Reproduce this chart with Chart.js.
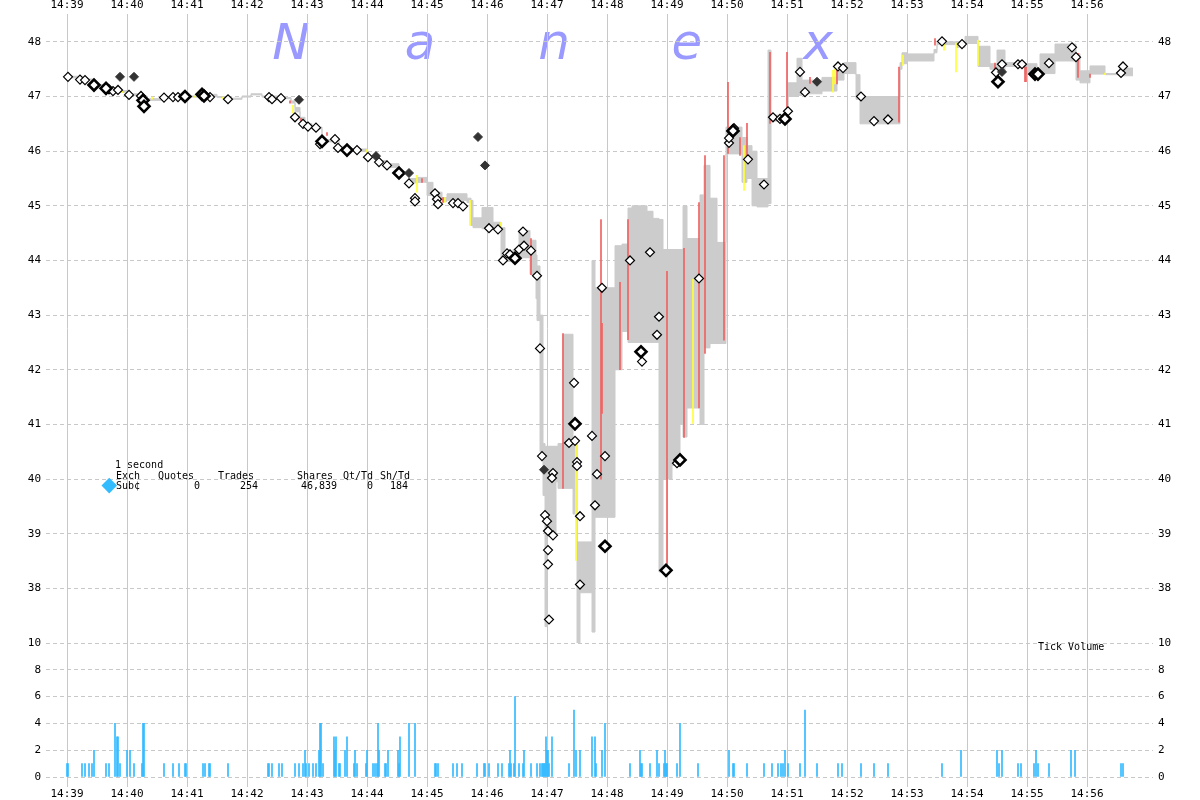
<!DOCTYPE html>
<html><head><meta charset="utf-8">
<script src="https://cdn.jsdelivr.net/npm/chart.js@4.4.1/dist/chart.umd.min.js"></script>
<style>
html,body{margin:0;padding:0;background:#fff;}
#wrap{position:relative;width:1200px;height:800px;overflow:hidden;background:#fff;}
canvas{position:absolute;left:0;top:0;}
.wm{position:absolute;font-family:"DejaVu Sans",sans-serif;font-style:italic;font-size:50px;color:#9999ff;line-height:1;transform:translateX(-50%);}
.t{position:absolute;font-family:"DejaVu Sans Mono",monospace;font-size:10px;color:#000;white-space:pre;line-height:1;}
#dia{position:absolute;left:104px;top:480px;width:10.5px;height:10.5px;background:#33bbff;transform:rotate(45deg);}
</style></head>
<body><div id="wrap">
<div class="wm" style="left:291px;top:17px">N</div>
<div class="wm" style="left:420px;top:17px">a</div>
<div class="wm" style="left:554px;top:17px">n</div>
<div class="wm" style="left:687px;top:17px">e</div>
<div class="wm" style="left:818px;top:17px">x</div>
<canvas id="price" width="1200" height="800"></canvas>
<canvas id="vol" width="1200" height="800"></canvas>
<div class="t" style="left:115px;top:460px">1 second</div>
<div class="t" style="left:116px;top:471px">Exch</div>
<div class="t" style="left:158px;top:471px">Quotes</div>
<div class="t" style="left:218px;top:471px">Trades</div>
<div class="t" style="left:297px;top:471px">Shares</div>
<div class="t" style="left:343px;top:471px">Qt/Td</div>
<div class="t" style="left:380px;top:471px">Sh/Td</div>
<div id="dia"></div>
<div class="t" style="left:116px;top:481px">Sub¢</div>
<div class="t" style="left:194px;top:481px">0</div>
<div class="t" style="left:240px;top:481px">254</div>
<div class="t" style="left:301px;top:481px">46,839</div>
<div class="t" style="left:367px;top:481px">0</div>
<div class="t" style="left:390px;top:481px">184</div>
<div class="t" style="left:1038px;top:642px">Tick Volume</div>
</div>
<script>
// time values are seconds after 14:39:00
const minuteTicks = [0,60,120,180,240,300,360,420,480,540,600,660,720,780,840,900,960,1020];
const minuteLabels = ['14:39','14:40','14:41','14:42','14:43','14:44','14:45','14:46','14:47','14:48','14:49','14:50','14:51','14:52','14:53','14:54','14:55','14:56'];
const priceTicks = [38,39,40,41,42,43,44,45,46,47,48];
const volumeTicks = [0,2,4,6,8,10];

// NBBO band: [seconds, low, high] (holds until next step)
const bandSteps = [
[0,47.34,47.37],[15,47.30,47.32],[27,47.19,47.22],[39,47.13,47.15],[48,47.08,47.11],[62,47.02,47.05],
[74,46.98,47.01],[80,46.93,46.96],[97,46.96,46.98],[119,46.99,47.01],[136,47.02,47.04],[150,46.98,47.00],
[162,46.95,46.97],[175,46.99,47.01],[184,47.03,47.05],[195,46.99,47.01],[214,46.96,46.98],[224,46.88,46.92],
[228,46.72,46.80],[233,46.55,46.62],[238,46.47,46.50],[245,46.41,46.44],[255,46.17,46.21],[266,46.20,46.24],
[272,46.05,46.09],[280,46.00,46.04],[300,45.88,45.92],[312,45.79,45.83],[320,45.70,45.77],[332,45.58,45.62],
[342,45.42,45.50],[350,45.43,45.52],[360,45.19,45.43],[366,45.12,45.25],[375,45.08,45.15],[380,45.10,45.22],
[400,45.06,45.14],[404,44.64,45.10],[406,44.60,44.78],[415,44.58,44.97],[426,44.57,44.70],[434,43.98,44.60],
[438,43.98,44.15],[446,44.02,44.20],[452,44.05,44.55],[463,43.75,44.37],[469,43.30,44.10],[470,42.90,43.90],
[473,40.50,43.00],[476,39.70,40.65],[478,37.30,40.60],[480,38.95,40.60],[489,39.95,40.60],[491,39.83,40.65],
[496,39.83,42.65],[506,39.36,40.71],[510,37.00,38.85],[513,37.92,38.85],[525,37.20,44.00],[528,39.30,43.50],
[548,42.00,44.27],[555,42.70,44.30],[561,42.50,44.96],[565,42.50,45.00],[580,42.50,44.90],[586,42.50,44.77],
[592,38.30,44.75],[596,40.00,44.20],[605,40.25,44.20],[613,41.00,44.20],[616,40.77,45.00],[620,41.30,44.40],
[633,41.00,45.20],[637,42.40,45.74],[643,42.48,45.14],[650,42.48,44.33],[659,45.95,46.44],[675,45.43,46.25],
[680,45.50,46.10],[685,45.00,46.00],[690,44.98,45.50],[701,45.04,47.85],[704,46.55,46.66],[720,46.58,46.72],
[721,47.00,47.25],[730,47.02,47.70],[735,47.05,47.30],[755,47.10,47.35],[770,47.30,47.55],[777,47.42,47.62],
[789,46.95,47.40],[793,46.50,47.00],[833,47.50,47.62],[835,47.60,47.80],[840,47.65,47.78],[867,47.80,47.86],
[870,47.95,48.00],[890,47.90,48.00],[898,47.97,48.10],[911,47.55,47.92],[923,47.50,47.60],[930,47.45,47.85],
[938,47.55,47.62],[958,47.42,47.60],[970,47.42,47.50],[973,47.42,47.78],[988,47.65,47.96],[1009,47.30,47.78],
[1013,47.25,47.47],[1023,47.41,47.56],[1038,47.40,47.42],[1053,47.38,47.52],[1066,47.38,47.52]
];

// crossed / locked quote flashes: [seconds, low, high]
const redQuoteLines = [
[223,46.88,46.92],[234,46.55,46.60],[260,46.29,46.34],[355,45.43,45.50],[376,45.06,45.15],
[464,43.74,44.40],[496,39.83,42.66],[534,40.00,44.75],[535,41.20,42.85],[553,42.00,43.60],[561,42.55,44.75],
[600,38.38,43.80],[617,40.76,44.22],[632,41.30,45.06],[638,42.30,45.92],[657,42.54,45.92],[661,45.96,47.26],
[673,45.92,46.25],[680,45.88,46.51],[703,46.51,47.81],[720,46.69,47.81],[743,47.24,47.35],[770,47.23,47.52],
[832,46.53,47.54],[868,47.94,48.06],[928,47.39,47.61],[958,47.27,47.54],[959,47.27,47.54],[1011,47.35,47.79],[1023,47.35,47.41]
];
const yellowQuoteLines = [
[55,47.07,47.10],[85,46.95,46.99],[128,46.99,47.01],[156,46.96,46.99],[226,46.70,46.84],[300,45.98,46.03],
[350,45.25,45.56],[378,45.06,45.15],[403,44.64,45.10],[434,44.58,44.70],[509,38.51,40.71],[626,41.02,43.66],
[677,45.28,46.10],[766,47.08,47.48],[768,47.23,47.50],[836,47.57,47.76],[877,47.85,47.98],[889,47.45,47.98],
[911,47.57,48.03],[1038,47.40,47.43]
];

// trades: [seconds, price]
const tradesNormal = [
[1,47.36],[13,47.31],[18,47.30],[42,47.13],[46,47.10],[51,47.12],[62,47.03],[74,47.01],[97,46.98],[106,46.99],
[111,46.99],[143,46.99],[161,46.95],[202,46.99],[205,46.95],[214,46.97],[228,46.62],[236,46.50],[241,46.45],
[249,46.43],[253,46.13],[268,46.22],[271,46.06],[290,46.02],[301,45.89],[312,45.80],[320,45.74],[342,45.41],
[348,45.14],[348,45.08],[368,45.23],[370,45.12],[371,45.03],[386,45.05],[391,45.05],[396,44.99],[422,44.59],
[431,44.57],[436,44.00],[440,44.13],[443,44.11],[452,44.20],[457,44.27],[456,44.53],[464,44.18],[470,43.72],
[473,42.39],[475,40.42],[486,40.11],[485,40.02],[478,39.34],[480,39.23],[481,39.05],[486,38.97],[481,38.70],
[481,38.44],[482,37.43],[507,41.76],[502,40.66],[508,40.70],[510,40.31],[510,40.24],[513,39.32],[513,38.07],
[525,40.79],[530,40.09],[528,39.52],[535,43.50],[538,40.42],[563,44.00],[583,44.15],[592,42.97],[590,42.64],
[575,42.15],[610,40.29],[632,43.67],[662,46.15],[662,46.24],[667,46.42],[681,45.85],[697,45.39],[706,46.62],
[713,46.59],[721,46.73],[733,47.45],[738,47.08],[771,47.55],[776,47.52],[794,47.00],[807,46.55],[821,46.58],
[875,48.01],[895,47.96],[929,47.44],[935,47.59],[951,47.59],[955,47.59],[982,47.61],[1005,47.90],[1009,47.72],
[1054,47.43],[1056,47.55]
];
const tradesLarge = [
[27,47.21],[39,47.15],[76,46.93],[77,46.82],[118,47.00],[135,47.04],[137,47.01],[255,46.18],[280,46.02],
[332,45.60],[448,44.04],[508,41.01],[538,38.77],[574,42.33],[599,38.33],[613,40.35],[666,46.37],[718,46.59],
[931,47.27],[968,47.41],[971,47.41]
];
const tradesFilled = [
[53,47.36],[67,47.36],[232,46.94],[309,45.91],[342,45.60],[411,46.26],[418,45.74],[477,40.17],[750,47.27],[935,47.45]
];

// tick volume per second: [seconds, trades]
const tickVolume = [
[0,1],[1,1],[15,1],[18,1],[22,1],[25,1],[27,2],[39,1],[42,1],[48,4],[50,3],[51,3],[53,1],[60,2],[63,2],[67,1],
[75,1],[76,4],[77,4],[97,1],[106,1],[112,1],[118,1],[119,1],[136,1],[138,1],[142,1],[143,1],[161,1],[201,1],
[202,1],[205,1],[212,1],[215,1],[228,1],[232,1],[236,1],[238,2],[239,1],[242,1],[246,1],[249,1],[252,2],[253,4],
[254,4],[256,1],[267,3],[268,2],[269,3],[272,1],[273,1],[278,2],[280,3],[287,1],[288,2],[290,1],[299,1],[300,2],
[306,1],[308,1],[310,1],[311,4],[312,2],[318,1],[319,1],[321,2],[331,2],[332,1],[333,3],[342,4],[348,4],[368,1],
[369,1],[371,1],[386,1],[390,1],[395,1],[410,1],[417,1],[418,1],[422,1],[431,1],[435,1],[442,1],[443,2],[444,1],
[447,1],[448,6],[452,1],[456,1],[457,2],[464,1],[470,1],[473,1],[475,1],[476,1],[477,1],[478,1],[479,3],[480,2],
[481,2],[482,1],[485,3],[502,1],[507,5],[509,2],[513,2],[525,3],[528,3],[529,1],[535,2],[538,4],[563,1],[573,2],
[574,1],[575,1],[583,1],[590,2],[592,1],[597,1],[598,2],[599,1],[600,1],[610,1],[613,4],[631,1],[662,2],[666,1],
[667,1],[680,1],[697,1],[705,1],[711,1],[714,1],[716,1],[718,2],[721,1],[733,1],[738,5],[750,1],[771,1],[775,1],
[794,1],[807,1],[821,1],[875,1],[894,2],[930,2],[932,1],[935,2],[951,1],[954,1],[967,1],[969,2],[971,1],[982,1],
[1004,2],[1008,2],[1054,1],[1056,1]
];

const FONT = {family:'"DejaVu Sans Mono", monospace', size:11};
const GRID = '#c8c8c8';
const X_MIN = -21, X_MAX = 1086;

function timeAxis(pos, h, pad) {
  return {
    type:'linear', position:pos, min:X_MIN, max:X_MAX, offset:false,
    afterBuildTicks: s => { s.ticks = minuteTicks.map(v => ({value:v})); },
    afterFit: s => { s.height = h; },
    ticks:{ font:FONT, color:'#000', padding:pad, autoSkip:false, maxRotation:0,
      callback: v => minuteLabels[minuteTicks.indexOf(v)] },
    grid:{ color:GRID, lineWidth:1, drawTicks:false, offset:false },
    border:{ display:false }
  };
}
function valueAxis(pos, min, max, ticks, w, showGrid) {
  return {
    type:'linear', position:pos, min:min, max:max,
    afterBuildTicks: s => { s.ticks = ticks.map(v => ({value:v})); },
    afterFit: s => { s.width = w; },
    ticks:{ font:FONT, color:'#000', padding:5, callback: v => String(v) },
    grid:{ display:showGrid, color:GRID, lineWidth:1, drawTicks:false },
    border:{ display:false, dash:[4,3] }
  };
}

const pts = arr => arr.map(a => ({x:a[0], y:a[1]}));
const ranges = arr => arr.map(a => ({x:a[0], y:[a[1], a[2]]}));

new Chart(document.getElementById('price'), {
  type:'line',
  data:{ datasets:[
    { label:'bid', data:bandSteps.map(a => ({x:a[0], y:a[1]})), stepped:true, borderColor:'#cccccc',
      borderWidth:1, pointRadius:0, fill:false, order:6 },
    { label:'ask', data:bandSteps.map(a => ({x:a[0], y:a[2]})), stepped:true, borderColor:'#cccccc',
      borderWidth:1, pointRadius:0, fill:'-1', backgroundColor:'#cccccc', order:5 },
    { type:'bar', label:'red', data:ranges(redQuoteLines), backgroundColor:'#f06262', barThickness:1, grouped:false, order:4 },
    { type:'bar', label:'yellow', data:ranges(yellowQuoteLines), backgroundColor:'#ffff33', barThickness:1, grouped:false, order:3 },
    { type:'scatter', label:'trades', data:pts(tradesNormal), showLine:false, pointStyle:'rectRot', pointRadius:4.5,
      backgroundColor:'#ffffff', borderColor:'#000000', pointBorderWidth:1.2, order:2 },
    { type:'scatter', label:'large', data:pts(tradesLarge), showLine:false, pointStyle:'rectRot', pointRadius:5.5,
      backgroundColor:'#ffffff', borderColor:'#000000', pointBorderWidth:2.6, order:1 },
    { type:'scatter', label:'filled', data:pts(tradesFilled), showLine:false, pointStyle:'rectRot', pointRadius:4.5,
      backgroundColor:'#333333', borderColor:'#333333', pointBorderWidth:1, order:0 }
  ]},
  options:{
    responsive:false, animation:false, events:[],
    layout:{ padding:{ left:0, right:0, top:0, bottom:157 } },
    plugins:{ legend:{display:false}, tooltip:{enabled:false} },
    scales:{
      x: timeAxis('top', 14, 2),
      y: valueAxis('left', 37, 48.51, priceTicks, 46, true),
      y2: valueAxis('right', 37, 48.51, priceTicks, 47, false)
    }
  }
});

new Chart(document.getElementById('vol'), {
  type:'bar',
  data:{ datasets:[
    { label:'Tick Volume', data:pts(tickVolume), backgroundColor:'#33bbff', barThickness:1, grouped:false }
  ]},
  options:{
    responsive:false, animation:false, events:[],
    layout:{ padding:{ left:0, right:0, top:643, bottom:0 } },
    plugins:{ legend:{display:false}, tooltip:{enabled:false} },
    scales:{
      x: timeAxis('bottom', 13, 1),
      y: valueAxis('left', -0.745, 10, volumeTicks, 46, true),
      y2: valueAxis('right', -0.745, 10, volumeTicks, 47, false)
    }
  }
});
</script>
</body></html>
